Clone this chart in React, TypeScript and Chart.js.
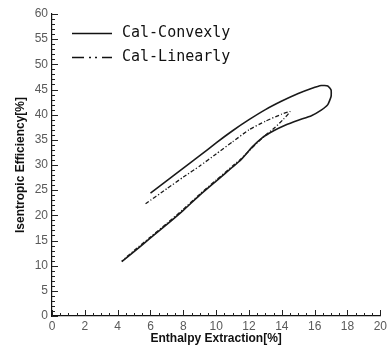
import React, { useEffect, useRef } from "react";
import { Chart, registerables } from "chart.js";

Chart.register(...registerables);

// Series: Cal-Convexly (solid)
const convexX = [6.0, 7.0, 8.0, 9.0, 10.0, 11.0, 12.0, 13.0, 14.0, 15.0, 15.8, 16.4, 16.8, 17.0, 17.0, 16.8, 16.4, 15.8, 15.0, 14.2, 13.5, 12.8, 12.2, 11.5, 11.0, 10.0, 9.0, 8.0, 7.0, 6.0, 5.0, 4.25];
const convexY = [24.4, 26.9, 29.4, 31.85, 34.4, 36.8, 39.0, 41.0, 42.7, 44.2, 45.2, 45.8, 45.7, 44.9, 43.6, 42.0, 40.9, 39.8, 38.9, 37.9, 36.8, 35.4, 33.6, 31.0, 29.6, 26.8, 24.0, 21.0, 18.2, 15.5, 12.8, 10.8];

// Series: Cal-Linearly (dash-dot-dot)
const linearX = [5.7, 7.0, 8.0, 9.0, 10.0, 11.0, 12.0, 13.0, 14.0, 14.5, 14.1, 13.6, 13.0, 12.5, 12.0, 11.5, 11.0, 10.0, 9.0, 8.0, 7.0, 6.0, 5.0, 4.25];
const linearY = [22.3, 25.3, 27.6, 29.8, 32.2, 34.6, 37.0, 38.7, 40.1, 40.6, 39.1, 37.5, 35.9, 34.4, 32.8, 31.2, 29.8, 27.0, 24.2, 21.2, 18.4, 15.7, 13.0, 10.9];

const seriesLabels = ["Cal-Convexly", "Cal-Linearly"];

const xTickMin = 0;
const xTickMax = 20;
const xTickStep = 2;
const xMinorStep = 0.5;
const yTickMin = 0;
const yTickMax = 60;
const yTickStep = 5;
const yMinorStep = 1;

const xTitle = "Enthalpy Extraction[%]";
const yTitle = "Isentropic Efficiency[%]";

const toPoints = (xs: number[], ys: number[]) => xs.map((x, i) => ({ x, y: ys[i] }));

const LEGEND_DASHES: number[][] = [[], [12, 5, 2, 4, 2, 5]];

const minorTicksPlugin = {
  id: "minorTicks",
  afterDraw(chart: any) {
    const ctx = chart.ctx;
    const xs = chart.scales.x;
    const ys = chart.scales.y;
    const area = chart.chartArea;
    ctx.save();
    ctx.strokeStyle = "#222";
    ctx.lineWidth = 1;
    ctx.beginPath();
    const nx = Math.round((xTickMax - xTickMin) / xMinorStep);
    for (let i = 0; i <= nx; i++) {
      const v = xTickMin + i * xMinorStep;
      const px = Math.round(xs.getPixelForValue(v)) + 0.5;
      const major = Math.abs(v / xTickStep - Math.round(v / xTickStep)) < 1e-6;
      const len = major ? 6 : 3;
      ctx.moveTo(px, area.bottom);
      ctx.lineTo(px, area.bottom - len);
    }
    const ny = Math.round((yTickMax - yTickMin) / yMinorStep);
    for (let i = 0; i <= ny; i++) {
      const v = yTickMin + i * yMinorStep;
      const py = Math.round(ys.getPixelForValue(v)) + 0.5;
      const major = Math.abs(v / yTickStep - Math.round(v / yTickStep)) < 1e-6;
      const len = major ? 6 : 3;
      ctx.moveTo(area.left, py);
      ctx.lineTo(area.left + len, py);
    }
    ctx.stroke();
    ctx.restore();
  },
};

const insideLegendPlugin = {
  id: "insideLegend",
  afterDraw(chart: any) {
    const ctx = chart.ctx;
    const area = chart.chartArea;
    const x0 = area.left + 20;
    const x1 = area.left + 60;
    const tx = area.left + 70;
    const rows = [area.top + 19.5, area.top + 43.5];
    ctx.save();
    chart.data.datasets.forEach((ds: any, i: number) => {
      const y = rows[i];
      ctx.beginPath();
      ctx.strokeStyle = "#111";
      ctx.lineWidth = 1.6;
      ctx.setLineDash(LEGEND_DASHES[i] || []);
      ctx.moveTo(x0, y);
      ctx.lineTo(x1, y);
      ctx.stroke();
      ctx.setLineDash([]);
      ctx.fillStyle = "#111";
      ctx.font = "15px 'DejaVu Sans Mono'";
      ctx.textBaseline = "middle";
      ctx.textAlign = "left";
      ctx.fillText(ds.label, tx, y);
    });
    ctx.restore();
  },
};

export default function App() {
  const canvasRef = useRef<HTMLCanvasElement | null>(null);

  useEffect(() => {
    const canvas = canvasRef.current;
    if (!canvas) return;
    const chart = new Chart(canvas, {
      type: "scatter",
      data: {
        datasets: [
          {
            label: seriesLabels[0],
            data: toPoints(convexX, convexY),
            showLine: true,
            borderColor: "#1a1a1a",
            borderWidth: 1.6,
            pointRadius: 0,
            tension: 0.15,
            fill: false,
          },
          {
            label: seriesLabels[1],
            data: toPoints(linearX, linearY),
            showLine: true,
            borderColor: "#1a1a1a",
            borderWidth: 1.3,
            borderDash: [4, 2, 1.2, 2],
            pointRadius: 0,
            tension: 0.15,
            fill: false,
          },
        ],
      },
      options: {
        responsive: false,
        animation: false,
        layout: { padding: { left: 0, top: 14, right: 7, bottom: 0 } },
        plugins: {
          legend: { display: false },
          tooltip: { enabled: false },
        },
        scales: {
          x: {
            type: "linear",
            min: xTickMin,
            max: xTickMax,
            afterFit: (s: any) => {
              s.height = 31;
            },
            ticks: {
              stepSize: xTickStep,
              padding: 3,
              color: "#5a5a5a",
              font: { family: "'Liberation Sans', Arial", size: 12 },
              maxRotation: 0,
            },
            grid: { drawOnChartArea: false, drawTicks: false },
            border: { display: true, color: "#111", width: 1.2 },
            title: {
              display: true,
              text: xTitle,
              color: "#111",
              font: { family: "'Liberation Sans', Arial", size: 12, weight: "bold" },
              padding: { top: 0, bottom: 1 },
            },
          },
          y: {
            type: "linear",
            min: yTickMin,
            max: yTickMax,
            afterFit: (s: any) => {
              s.width = 52;
            },
            ticks: {
              stepSize: yTickStep,
              padding: 4,
              color: "#5a5a5a",
              font: { family: "'Liberation Sans', Arial", size: 12 },
            },
            grid: { drawOnChartArea: false, drawTicks: false },
            border: { display: true, color: "#111", width: 1.2 },
            title: {
              display: true,
              text: yTitle,
              color: "#111",
              font: { family: "'Liberation Sans', Arial", size: 12, weight: "bold" },
              padding: { top: 13, bottom: 0 },
            },
          },
        },
      },
      plugins: [minorTicksPlugin, insideLegendPlugin],
    } as any);
    return () => chart.destroy();
  }, []);

  return (
    <div style={{ position: "absolute", left: 0, top: 0, width: 390, height: 347, background: "#fff" }}>
      <canvas ref={canvasRef} width={390} height={347} />
    </div>
  );
}
